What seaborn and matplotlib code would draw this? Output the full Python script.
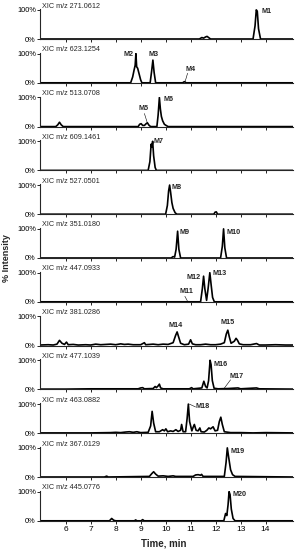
import matplotlib
matplotlib.use("Agg")
import matplotlib.pyplot as plt
import seaborn as sns

# extracted ion chromatograms, one per panel (time in min, relative intensity)
xic_labels = ["XIC m/z 271.0612", "XIC m/z 623.1254", "XIC m/z 513.0708",
              "XIC m/z 609.1461", "XIC m/z 527.0501", "XIC m/z 351.0180",
              "XIC m/z 447.0933", "XIC m/z 381.0286", "XIC m/z 477.1039",
              "XIC m/z 463.0882", "XIC m/z 367.0129", "XIC m/z 445.0776"]

t1 = [4.97, 11.35, 11.45, 11.52, 11.6, 11.66, 11.72, 11.8, 13.5, 13.58, 13.63, 13.67, 13.72, 13.8, 15.1]
i1 = [0, 0, 0.05, 0.03, 0.07, 0.09, 0.05, 0, 0, 0.45, 1.0, 0.95, 0.35, 0, 0]

t2 = [4.97, 8.6, 8.68, 8.74, 8.78, 8.81, 8.84, 8.88, 8.94, 9.0, 9.05, 9.38, 9.44, 9.49, 9.54, 9.6, 10.68, 10.75, 10.82, 15.1]
i2 = [0, 0, 0.2, 0.45, 0.6, 1.0, 0.55, 0.5, 0.3, 0.1, 0, 0, 0.4, 0.78, 0.35, 0, 0, 0.04, 0, 0]

t3 = [4.97, 5.6, 5.68, 5.75, 5.82, 5.9, 8.9, 8.96, 9.02, 9.08, 9.15, 9.22, 9.27, 9.33, 9.4,
      9.65, 9.7, 9.75, 9.79, 9.83, 9.88, 9.95, 10.0, 10.1, 15.1]
i3 = [0, 0, 0.06, 0.15, 0.06, 0, 0, 0.08, 0.1, 0.04, 0.04, 0.1, 0.13, 0.05, 0,
      0, 0.4, 1.0, 0.6, 0.35, 0.2, 0.08, 0.05, 0, 0]

t4 = [4.97, 9.3, 9.37, 9.42, 9.45, 9.48, 9.52, 9.58, 9.63, 15.1]
i4 = [0, 0, 0.3, 0.9, 0.8, 1.0, 0.5, 0.1, 0, 0]

t5 = [4.97, 10.0, 10.07, 10.12, 10.16, 10.2, 10.25, 10.3, 10.38, 10.45, 11.93, 11.98, 12.03, 12.08, 15.1]
i5 = [0, 0, 0.3, 0.8, 1.0, 0.75, 0.4, 0.2, 0.05, 0, 0, 0.07, 0.08, 0, 0]

t6 = [4.97, 10.22, 10.3, 10.36, 10.42, 10.48, 10.53, 10.6, 12.2, 12.27, 12.32, 12.37, 12.44, 15.1]
i6 = [0, 0, 0.05, 0.03, 0.3, 0.92, 0.3, 0, 0, 0.4, 1.0, 0.35, 0, 0]

t7 = [4.97, 11.4, 11.47, 11.52, 11.57, 11.64, 11.7, 11.77, 11.82, 11.88, 11.95, 15.1]
i7 = [0, 0, 0.45, 0.88, 0.45, 0.05, 0.45, 1.0, 0.6, 0.15, 0, 0]

t8 = [4.97, 5.3, 5.5, 5.65, 5.75, 5.85, 5.95, 6.03, 6.1, 6.3, 6.5, 6.8, 7.0, 7.2, 7.4, 7.6,
      7.8, 8.0, 8.2, 8.35, 8.5, 8.7, 9.0, 9.15, 9.2, 9.5, 9.7, 9.9, 10.1, 10.3, 10.4,
      10.46, 10.52, 10.6, 10.75, 10.92, 11.0, 11.07, 11.2, 11.4, 11.6, 11.8, 12.0, 12.2,
      12.35, 12.43, 12.49, 12.55, 12.62, 12.75, 12.82, 12.88, 12.95, 13.1, 13.4, 13.64,
      13.75, 14.0, 14.4, 14.8, 15.1]
i8 = [0.02, 0.03, 0.02, 0.05, 0.18, 0.08, 0.04, 0.12, 0.03, 0.04, 0.02, 0.03, 0.02, 0.05, 0.03, 0.04,
      0.05, 0.03, 0.06, 0.04, 0.05, 0.03, 0.03, 0.1, 0.03, 0.05, 0.03, 0.05, 0.04, 0.1, 0.35,
      0.47, 0.3, 0.08, 0.03, 0.05, 0.2, 0.06, 0.03, 0.03, 0.05, 0.03, 0.03, 0.05,
      0.1, 0.4, 0.53, 0.3, 0.08, 0.15, 0.25, 0.18, 0.06, 0.03, 0.03, 0.07,
      0.02, 0.02, 0.03, 0.02, 0.02]

t9 = [4.97, 6.0, 7.0, 8.0, 8.9, 9.0, 9.08, 9.15, 9.5, 9.58, 9.63, 9.7, 9.75, 9.8, 9.9, 10.5,
      10.95, 11.04, 11.1, 11.45, 11.53, 11.6, 11.66, 11.72, 11.78, 11.82, 11.87, 11.94,
      12.1, 12.5, 12.9, 13.0, 13.64, 13.75, 15.1]
i9 = [0.01, 0.01, 0.02, 0.02, 0.02, 0.05, 0.06, 0.02, 0.03, 0.1, 0.06, 0.12, 0.18, 0.05, 0.02, 0.02,
      0.02, 0.06, 0.02, 0.05, 0.28, 0.1, 0.05, 0.3, 1.0, 0.85, 0.3, 0.04,
      0.02, 0.03, 0.05, 0.02, 0.05, 0.02, 0.01]

t10 = [4.97, 7.0, 7.8, 8.0, 8.2, 8.4, 8.55, 8.7, 8.85, 9.0, 9.3, 9.4, 9.46, 9.52, 9.6, 9.75,
       9.88, 9.95, 10.01, 10.08, 10.2, 10.3, 10.41, 10.5, 10.6, 10.64, 10.7, 10.8, 10.86,
       10.91, 10.96, 11.05, 11.1, 11.15, 11.22, 11.3, 11.37, 11.42, 11.55, 11.65, 11.73,
       11.8, 11.9, 11.98, 12.08, 12.15, 12.21, 12.27, 12.35, 12.6, 13.0, 13.5, 14.0, 15.1]
i10 = [0.01, 0.01, 0.02, 0.03, 0.02, 0.04, 0.05, 0.03, 0.05, 0.02, 0.03, 0.25, 0.75, 0.35, 0.05, 0.05,
       0.12, 0.08, 0.15, 0.05, 0.08, 0.06, 0.12, 0.06, 0.1, 0.3, 0.05, 0.05, 0.5,
       1.0, 0.4, 0.08, 0.2, 0.3, 0.1, 0.08, 0.18, 0.05, 0.04, 0.1, 0.18,
       0.15, 0.22, 0.08, 0.1, 0.4, 0.55, 0.3, 0.05, 0.02, 0.02, 0.01, 0.02, 0.01]

t11 = [4.97, 7.55, 7.64, 7.7, 9.35, 9.45, 9.52, 9.6, 9.7, 9.9, 10.1, 10.3, 10.4, 11.1, 11.2,
       11.3, 11.4, 11.44, 11.5, 12.35, 12.42, 12.47, 12.52, 12.6, 12.68, 12.78, 15.1]
i11 = [0, 0, 0.03, 0, 0.02, 0.12, 0.18, 0.1, 0.03, 0.04, 0.02, 0.04, 0.02, 0.02, 0.07,
       0.08, 0.06, 0.09, 0.02, 0.02, 0.5, 1.0, 0.7, 0.25, 0.08, 0.02, 0]

t12 = [4.97, 7.75, 7.84, 7.92, 8.0, 8.75, 8.8, 8.85, 9.02, 9.08, 9.14, 12.33, 12.4, 12.45,
       12.5, 12.54, 12.58, 12.63, 12.7, 12.78, 15.1]
i12 = [0, 0, 0.08, 0.02, 0, 0, 0.03, 0, 0, 0.04, 0, 0, 0.25, 0.18,
       0.55, 1.0, 0.9, 0.4, 0.08, 0, 0]

traces = [(t1, i1), (t2, i2), (t3, i3), (t4, i4), (t5, i5), (t6, i6),
          (t7, i7), (t8, i8), (t9, i9), (t10, i10), (t11, i11), (t12, i12)]

# peak names: panel, text, time, intensity, alignment
peak_names = [
    (0, "M1", 13.84, 0.94, "left"),
    (1, "M2", 8.7, 0.96, "right"),
    (1, "M3", 9.5, 0.96, "center"),
    (1, "M4", 10.8, 0.46, "left"),
    (2, "M5", 8.9, 0.61, "left"),
    (2, "M6", 9.9, 0.93, "left"),
    (3, "M7", 9.53, 0.98, "left"),
    (4, "M8", 10.24, 0.92, "left"),
    (5, "M9", 10.57, 0.88, "left"),
    (5, "M10", 12.43, 0.88, "left"),
    (6, "M11", 10.55, 0.34, "left"),
    (6, "M12", 11.39, 0.82, "right"),
    (6, "M13", 11.88, 0.97, "left"),
    (7, "M14", 10.42, 0.7, "center"),
    (7, "M15", 12.48, 0.78, "center"),
    (8, "M16", 11.9, 0.86, "left"),
    (8, "M17", 12.57, 0.44, "left"),
    (9, "M18", 11.21, 0.92, "left"),
    (10, "M19", 12.61, 0.88, "left"),
    (11, "M20", 12.67, 0.89, "left"),
]

# leader lines: panel, (x0, y0), (x1, y1)
leaders = [
    (1, (10.88, 0.33), (10.78, 0.04)),
    (2, (9.15, 0.45), (9.27, 0.12)),
    (6, (10.77, 0.19), (10.87, 0.03)),
    (8, (12.6, 0.33), (12.33, 0.02)),
    (9, (11.2, 0.9), (10.95, 1.0)),
]

sns.set_style("ticks")
plt.rcParams["font.family"] = ["Liberation Sans", "DejaVu Sans"]

W, H = 295, 550
fig = plt.figure(figsize=(W / 100, H / 100), dpi=100)

left, right = 40, 293
pitch = 43.8
axes = []
for k, (tt, ii) in enumerate(traces):
    y0 = 39 + pitch * k
    ax = fig.add_axes([left / W, 1 - y0 / H, (right - left) / W, 30 / H])
    sns.lineplot(x=tt, y=ii, ax=ax, color="black", lw=1.2, estimator=None, sort=False)
    ax.set_xlim(4.97, 15.1)
    ax.set_ylim(0, 1.03)
    ax.set_xticks(range(6, 15))
    ax.set_yticks([0, 1])
    ax.set_yticklabels(["0%", "100%"])
    ax.tick_params(axis="both", length=2, width=0.6, pad=1, labelsize=5.3, colors="black")
    if k < len(traces) - 1:
        ax.set_xticklabels([])
    else:
        ax.tick_params(axis="x", labelsize=6, pad=2)
    for s in ["top", "right"]:
        ax.spines[s].set_visible(False)
    for s in ["left", "bottom"]:
        ax.spines[s].set_linewidth(0.8)
    ax.text(0.008, 1.1, xic_labels[k], transform=ax.transAxes, fontsize=5.2,
            ha="left", va="center")
    axes.append(ax)

for p, name, x, y, ha in peak_names:
    axes[p].text(x, y, name, fontsize=5.2, fontweight="bold", ha=ha, va="center")

for p, (xa, ya), (xb, yb) in leaders:
    axes[p].plot([xa, xb], [ya, yb], color="black", lw=0.4)

fig.text(7 / W, 1 - 258 / H, "% Intensity", rotation=90, fontsize=6.5,
         fontweight="bold", ha="center", va="center")
fig.text(164 / W, 1 - 543 / H, "Time, min", fontsize=7, fontweight="bold",
         ha="center", va="center")

fig.savefig("out.png", dpi=100)
